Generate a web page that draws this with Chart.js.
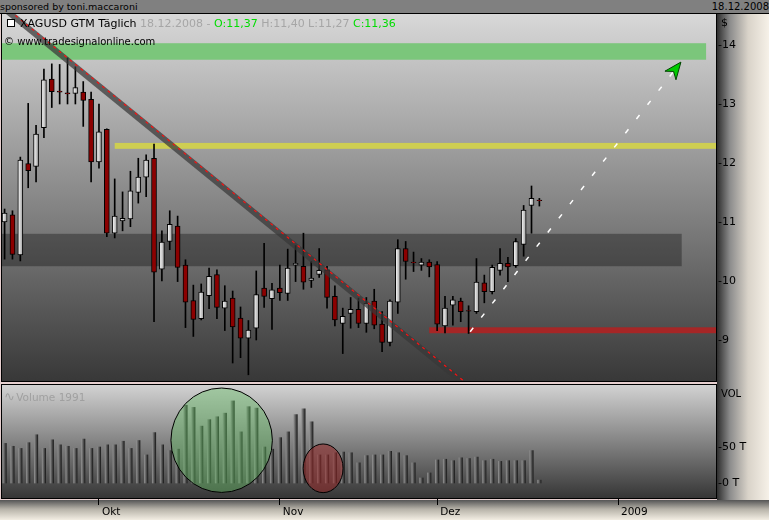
<!DOCTYPE html>
<html lang="de">
<head>
<meta charset="UTF-8">
<title>XAGUSD GTM Täglich</title>
<script src="https://cdn.jsdelivr.net/npm/chart.js"></script>
<style>
    body { margin: 0; background: #e6cfcf; font-family: "DejaVu Sans", sans-serif; }
    #wrap { position: relative; width: 769px; height: 520px; overflow: hidden; background: #e6cfcf; }
    .abs { position: absolute; white-space: nowrap; }
    #topbar { left: 0; top: 0; width: 769px; height: 13px; background: #808080; border-bottom: 1px solid #000; }
    #sponsor { left: 0; top: 0; font-size: 9.5px; line-height: 13px; color: #000; }
    #date { right: 0; top: 0; font-size: 10px; line-height: 13px; color: #000; }
    #axisbg { left: 717px; top: 14px; width: 52px; height: 486px;
        background: linear-gradient(to right, #2e2e2e 0%, #8c8c8c 25%, #d9d3c9 60%, #f6f1e8 100%); }
    #footbg { left: 0; top: 500px; width: 769px; height: 20px;
        background: linear-gradient(to bottom, #555 0%, #b6b2a8 45%, #f3eee3 100%); }
    canvas { position: absolute; left: 0; }
    #priceChart { top: 0; }
    #volumeChart { top: 384px; }
    #title { left: 7px; top: 17px; font-size: 11px; line-height: 13px; color: #000; }
    #title .icon { display: inline-block; width: 6px; height: 6px; border: 1px solid #000; background: #fff;
        margin-right: 5px; position: relative; top: 0px; }
    #title .grey { color: #a6a6a6; }
    #title .green { color: #00dd00; }
    #copy { left: 4px; top: 35px; font-size: 10px; line-height: 13px; color: #000; }
    #dollar { left: 721px; top: 16px; font-size: 11px; color: #000; }
    #vol { left: 721px; top: 388px; font-size: 10px; color: #000; }
    #volname { left: 4px; top: 389px; font-size: 10.5px; color: #a0a0a0; }
    #volname .wave { font-size: 13px; letter-spacing: -2px; }
</style>
</head>
<body>
<div id="wrap">
    <div id="topbar" class="abs"></div>
    <div id="sponsor" class="abs">sponsored by toni.maccaroni</div>
    <div id="date" class="abs">18.12.2008</div>
    <div id="axisbg" class="abs"></div>
    <div id="footbg" class="abs"></div>
    <canvas id="priceChart" width="769" height="384"></canvas>
    <canvas id="volumeChart" width="769" height="136"></canvas>
    <div id="title" class="abs"><span class="icon"></span>XAGUSD GTM Täglich <span class="grey">18.12.2008 -</span> <span class="green">O:11,37</span> <span class="grey">H:11,40 L:11,27</span> <span class="green">C:11,36</span></div>
    <div id="copy" class="abs">© www.tradesignalonline.com</div>
    <div id="dollar" class="abs">$</div>
    <div id="vol" class="abs">VOL</div>
    <div id="volname" class="abs"><span class="wave">∿</span> Volume 1991</div>
</div>

<script>
    // daily bars 15.09.2008 - 18.12.2008 (weekdays), index 0 = 15.09.
    const opens  = [11.00, 11.12, 10.44, 11.99, 11.94, 12.60, 13.42, 13.22, 13.19, 13.18,
                    13.20, 13.08, 12.02, 12.57, 10.81, 11.02, 11.05, 11.50, 11.76, 12.08,
                    10.20, 10.67, 10.93, 10.27, 9.67, 9.36, 9.75, 10.11, 9.54, 9.71,
                    9.37, 9.03, 9.20, 9.88, 9.70, 9.88, 9.79, 10.27, 10.25, 10.01,
                    10.11, 10.19, 9.74, 9.28, 9.45, 9.52, 9.28, 9.66, 9.27, 8.96,
                    9.64, 10.55, 10.32, 10.27, 10.32, 10.28, 9.24, 9.59, 9.66, 9.50,
                    9.48, 9.97, 9.82, 10.18, 10.30, 10.26, 10.62, 11.28, 11.37];
    const highs  = [11.22, 11.19, 12.10, 13.01, 12.64, 13.59, 13.68, 13.67, 13.78, 13.63,
                    13.38, 13.20, 13.00, 12.58, 11.73, 11.51, 11.86, 12.08, 12.14, 12.32,
                    10.85, 11.19, 11.10, 10.36, 9.93, 9.95, 10.22, 10.19, 9.92, 9.83,
                    9.56, 9.33, 10.17, 10.64, 9.96, 10.27, 10.54, 10.60, 10.81, 10.33,
                    10.55, 10.25, 9.92, 9.54, 9.72, 9.71, 9.72, 9.86, 9.48, 9.68,
                    10.70, 10.67, 10.49, 10.38, 10.36, 10.33, 9.74, 9.74, 9.71, 9.58,
                    10.38, 10.10, 10.27, 10.55, 10.40, 10.72, 11.28, 11.61, 11.40];
    const lows   = [10.37, 10.37, 10.34, 11.58, 11.68, 12.43, 12.94, 13.00, 13.00, 13.00,
                    12.62, 11.68, 11.91, 10.75, 10.73, 10.85, 10.92, 11.32, 11.43, 9.31,
                    10.00, 10.53, 9.99, 9.21, 9.06, 9.34, 9.53, 9.36, 9.16, 8.61,
                    8.70, 8.41, 9.00, 9.55, 9.18, 9.67, 9.67, 9.99, 9.86, 9.89,
                    10.06, 9.54, 9.24, 8.77, 9.20, 9.21, 9.13, 9.19, 8.80, 8.90,
                    9.45, 10.03, 10.16, 10.18, 10.07, 9.16, 9.12, 9.25, 9.31, 9.11,
                    9.45, 9.63, 9.78, 10.10, 9.99, 10.23, 10.42, 10.81, 11.27];
    const closes = [11.15, 10.45, 12.05, 11.87, 12.49, 13.41, 13.21, 13.20, 13.17, 13.28,
                    13.06, 12.02, 12.53, 10.81, 11.10, 11.06, 11.53, 11.76, 12.05, 10.15,
                    10.66, 10.96, 10.23, 9.64, 9.35, 9.81, 10.08, 9.55, 9.66, 9.22,
                    9.03, 9.17, 9.77, 9.74, 9.85, 9.80, 10.22, 10.30, 9.98, 10.05,
                    10.18, 9.72, 9.34, 9.40, 9.52, 9.28, 9.62, 9.25, 8.96, 9.66,
                    10.55, 10.33, 10.31, 10.32, 10.24, 9.27, 9.54, 9.68, 9.48, 9.49,
                    9.98, 9.82, 10.23, 10.30, 10.24, 10.67, 11.20, 11.40, 11.36];
    // volume in thousands (T)
    const volumes = [55, 51, 48, 56, 67, 48, 60, 53, 51, 48,
                     61, 48, 50, 53, 53, 58, 48, 59, 39, 70,
                     53, 45, 47, 108, 105, 79, 88, 92, 97, 114,
                     71, 106, 104, 50, 47, 63, 71, 95, 103, 85,
                     39, 39, 42, 43, 42, 28, 38, 39, 39, 44,
                     42, 38, 28, 7, 14, 32, 33, 31, 35, 34,
                     36, 31, 33, 30, 31, 31, 31, 45, 4];

    const priceTicks = [9, 10, 11, 12, 13, 14];
    const volumeTicks = [0, 50];
    const monthTicks = [12, 35, 55, 78];
    const monthLabels = ['Okt', 'Nov', 'Dez', '2009'];

    // hand drawn marks of the original chart, in bar index / price units
    const trendLine   = [{x: 0, y: 14.65}, {x: 60, y: 8.13}];
    const trendShadow = [{x: 0, y: 14.61}, {x: 60, y: 8.09}];
    const targetArrow = [{x: 59.2, y: 9.14}, {x: 86.0, y: 13.71}];
    const greenZone  = {x0: -1, x1: 89.2, y0: 13.75, y1: 14.03};
    const greyZone   = {x0: -1, x1: 86.1, y0: 10.25, y1: 10.80};
    const yellowZone = {x0: 14.0, x1: 92, y0: 12.24, y1: 12.34};
    const redZone    = {x0: 54.0, x1: 92, y0: 9.115, y1: 9.215};
    // circles on the volume panel: centre and radii in index / volume units
    const greenRing = {x: 27.6, y: 59.4, rx: 6.45, ry: 72.5};
    const redRing   = {x: 40.5, y: 20.4, rx: 2.54, ry: 33.8};

    const X_MIN = -0.331, X_MAX = 90.46;

    Chart.defaults.font.family = '"DejaVu Sans", sans-serif';
    Chart.defaults.font.size = 10;
    Chart.defaults.color = '#000';

    const bodies = opens.map((o, i) => ({x: i, y: [o, closes[i]]}));
    const wicks = lows.map((l, i) => ({x: i, y: [l, highs[i]]}));
    const volBars = volumes.map((v, i) => ({x: i, y: v}));

    // panel background, frame and the drawn zones
    const panel = {
        id: 'panel',
        beforeDraw(chart, args, opts) {
            const {ctx, chartArea: a} = chart;
            const g = ctx.createLinearGradient(0, a.top, 0, a.bottom);
            g.addColorStop(0, opts.top);
            g.addColorStop(1, opts.bottom);
            ctx.save();
            ctx.fillStyle = g;
            ctx.fillRect(a.left, a.top, a.right - a.left, a.bottom - a.top);
            ctx.restore();
        },
        beforeDatasetsDraw(chart, args, opts) {
            if (!opts.zones) return;
            const {ctx, chartArea: a, scales: {x, y}} = chart;
            ctx.save();
            ctx.beginPath();
            ctx.rect(a.left, a.top, a.right - a.left, a.bottom - a.top);
            ctx.clip();
            opts.zones.forEach(([z, color]) => {
                const x0 = x.getPixelForValue(z.x0), x1 = x.getPixelForValue(z.x1);
                const y0 = y.getPixelForValue(z.y1), y1 = y.getPixelForValue(z.y0);
                ctx.fillStyle = color;
                ctx.fillRect(x0, y0, x1 - x0, y1 - y0);
            });
            ctx.restore();
        },
        afterDatasetsDraw(chart, args, opts) {
            const {ctx, chartArea: a, scales: {x, y}} = chart;
            ctx.save();
            ctx.beginPath();
            ctx.rect(a.left, a.top, a.right - a.left, a.bottom - a.top);
            ctx.clip();
            (opts.rings || []).forEach(([r, color]) => {
                const cx = x.getPixelForValue(r.x), cy = y.getPixelForValue(r.y);
                const rx = x.getPixelForValue(r.x + r.rx) - cx;
                const ry = cy - y.getPixelForValue(r.y + r.ry);
                ctx.beginPath();
                ctx.ellipse(cx, cy, rx, ry, 0, 0, Math.PI * 2);
                ctx.fillStyle = color;
                ctx.fill();
                ctx.lineWidth = 1;
                ctx.strokeStyle = '#000';
                ctx.stroke();
            });
            if (opts.arrow) {
                const p0 = opts.arrow[0], p1 = opts.arrow[opts.arrow.length - 1];
                const ax = x.getPixelForValue(p1.x), ay = y.getPixelForValue(p1.y);
                const bx = x.getPixelForValue(p0.x), by = y.getPixelForValue(p0.y);
                const len = Math.hypot(ax - bx, ay - by);
                const ux = (ax - bx) / len, uy = (ay - by) / len;
                const back = 17, half = 7;
                ctx.beginPath();
                ctx.moveTo(ax, ay);
                ctx.lineTo(ax - ux * back - uy * half, ay - uy * back + ux * half);
                ctx.lineTo(ax - ux * back * 0.7, ay - uy * back * 0.7);
                ctx.lineTo(ax - ux * back + uy * half, ay - uy * back - ux * half);
                ctx.closePath();
                ctx.fillStyle = '#00cc00';
                ctx.fill();
                ctx.strokeStyle = '#004400';
                ctx.stroke();
            }
            ctx.restore();
        },
        afterDraw(chart) {
            const {ctx, chartArea: a} = chart;
            ctx.save();
            ctx.strokeStyle = '#000';
            ctx.lineWidth = 1;
            ctx.strokeRect(a.left - 0.5, a.top - 0.5, a.right - a.left + 1, a.bottom - a.top + 1);
            ctx.restore();
        }
    };

    // left-lit shading across one bar; falls back to the flat colour until the scale is laid out
    function shade(ctx, light, dark, half) {
        const px = ctx.chart.scales.x.getPixelForValue(ctx.dataIndex);
        if (!isFinite(px)) return dark;
        const g = ctx.chart.ctx.createLinearGradient(px - half, 0, px + half, 0);
        g.addColorStop(0, light);
        g.addColorStop(1, dark);
        return g;
    }

    const fixWidth = w => s => { s.width = w; s.paddingTop = 0; s.paddingBottom = 0; };

    new Chart(document.getElementById('priceChart'), {
        type: 'bar',
        data: {
            datasets: [
                {type: 'line', data: targetArrow, borderColor: '#ffffff', borderWidth: 1.5,
                    borderDash: [5, 13], pointRadius: 0, order: 0},
                {type: 'line', data: trendLine, borderColor: '#ff1010', borderWidth: 1.2,
                    borderDash: [3, 4], pointRadius: 0, order: 1},
                {type: 'line', data: trendShadow, borderColor: 'rgba(55,55,55,0.72)', borderWidth: 6,
                    pointRadius: 0, order: 2},
                {data: bodies, grouped: false, barThickness: 5, borderWidth: 1, borderColor: '#000',
                    borderSkipped: false, order: 3,
                    backgroundColor: ctx => {
                        if (ctx.type !== 'data') return '#ddd';
                        if (closes[ctx.dataIndex] < opens[ctx.dataIndex]) return '#8c0000';
                        return shade(ctx, '#ffffff', '#9c9c9c', 2.5);
                    }},
                {data: wicks, grouped: false, barThickness: 1, backgroundColor: '#000',
                    borderWidth: 0, order: 4}
            ]
        },
        options: {
            responsive: false,
            animation: false,
            layout: {padding: {top: 14, left: 2, right: 0, bottom: 3}},
            scales: {
                x: {type: 'linear', min: X_MIN, max: X_MAX, offset: false, display: false},
                y: {
                    position: 'right', min: 8.305, max: 14.525,
                    afterFit: fixWidth(53),
                    afterBuildTicks: s => { s.ticks = priceTicks.map(v => ({value: v})); },
                    grid: {display: false, drawTicks: false},
                    border: {display: false},
                    ticks: {padding: 2, font: {size: 11}, callback: v => '-' + v}
                }
            },
            plugins: {
                legend: {display: false},
                tooltip: {enabled: false},
                panel: {
                    top: '#d8d8d8', bottom: '#383838',
                    zones: [
                        [greenZone, '#7bc67b'],
                        [greyZone, 'rgba(0,0,0,0.32)'],
                        [yellowZone, 'rgb(206,206,82)'],
                        [redZone, 'rgb(166,38,38)']
                    ],
                    arrow: targetArrow
                }
            }
        },
        plugins: [panel]
    });

    new Chart(document.getElementById('volumeChart'), {
        type: 'bar',
        data: {
            datasets: [{
                data: volBars, barThickness: 3.5, borderWidth: 0,
                backgroundColor: ctx => ctx.type !== 'data' ? '#444' : shade(ctx, '#8e8e8e', '#1e1e1e', 1.75)
            }]
        },
        options: {
            responsive: false,
            animation: false,
            layout: {padding: {top: 1, left: 2, right: 0, bottom: 0}},
            scales: {
                x: {
                    type: 'linear', min: X_MIN, max: X_MAX, offset: false,
                    afterFit: s => { s.height = 22; s.paddingLeft = 0; s.paddingRight = 0; },
                    afterBuildTicks: s => { s.ticks = monthTicks.map(v => ({value: v})); },
                    grid: {offset: false, drawOnChartArea: false, drawTicks: true, tickLength: 7, tickColor: '#000'},
                    border: {display: false},
                    ticks: {align: 'start', labelOffset: 3, padding: 1, maxRotation: 0, autoSkip: false,
                        font: {size: 10.5}, callback: (v, i) => monthLabels[i]}
                },
                y: {
                    position: 'right', min: -20.83, max: 136.1,
                    afterFit: fixWidth(53),
                    afterBuildTicks: s => { s.ticks = volumeTicks.map(v => ({value: v})); },
                    grid: {display: false, drawTicks: false},
                    border: {display: false},
                    ticks: {padding: 2, font: {size: 11}, callback: v => '-' + v + ' T'}
                }
            },
            plugins: {
                legend: {display: false},
                tooltip: {enabled: false},
                panel: {
                    top: '#d2d2d2', bottom: '#363636',
                    rings: [
                        [greenRing, 'rgba(100,190,100,0.42)'],
                        [redRing, 'rgba(150,40,40,0.55)']
                    ]
                }
            }
        },
        plugins: [panel]
    });
</script>
</body>
</html>
